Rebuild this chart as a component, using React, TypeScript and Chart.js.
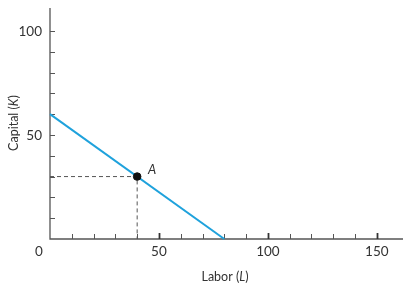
import React, { useEffect, useRef } from "react";
import { Chart, registerables } from "chart.js";

Chart.register(...registerables);

// ---- data ----
const budgetLine = [
  { x: 0, y: 60 },
  { x: 80, y: 0 },
];
const pointA = [{ x: 40, y: 30 }];
const pointLabel = "A";
const xTickValues = [10, 20, 30, 40, 50, 60, 70, 80, 90, 100, 110, 120, 130, 140, 150];
const yTickValues = [10, 20, 30, 40, 50, 60, 70, 80, 90, 100];
const xLabelValues = [0, 50, 100, 150];
const xLabelTexts = ["0", "50", "100", "150"];
const yLabelValues = [50, 100];
const yLabelTexts = ["50", "100"];
const xTitleParts = [
  { t: "Labor (", italic: false },
  { t: "L", italic: true },
  { t: ")", italic: false },
];
const yTitleParts = [
  { t: "Capital (", italic: false },
  { t: "K", italic: true },
  { t: ")", italic: false },
];

const FONT = "Lato, 'Open Sans', sans-serif";
const TEXT = "#333";
const AXIS = "#555";

function drawParts(ctx: CanvasRenderingContext2D, parts: { t: string; italic: boolean }[], size: number) {
  let total = 0;
  const widths = parts.map((p) => {
    ctx.font = `${p.italic ? "italic " : ""}${size}px ${FONT}`;
    const w = ctx.measureText(p.t).width;
    total += w;
    return w;
  });
  let x = -total / 2;
  parts.forEach((p, i) => {
    ctx.font = `${p.italic ? "italic " : ""}${size}px ${FONT}`;
    ctx.fillText(p.t, x, 0);
    x += widths[i];
  });
}

const axesPlugin = {
  id: "customAxes",
  beforeDatasetsDraw(chart: any) {
    const { ctx, chartArea, scales } = chart;
    const xs = scales.x;
    const ys = scales.y;
    const x0 = xs.getPixelForValue(0);
    const y0 = ys.getPixelForValue(0);
    ctx.save();
    ctx.strokeStyle = AXIS;
    ctx.lineWidth = 1.3;
    ctx.beginPath();
    ctx.moveTo(x0, chartArea.top);
    ctx.lineTo(x0, y0);
    ctx.lineTo(chartArea.right, y0);
    ctx.stroke();
    // y ticks (inside, to the right)
    yTickValues.forEach((v) => {
      const py = Math.round(ys.getPixelForValue(v)) + 0.5;
      ctx.lineWidth = 1;
      ctx.beginPath();
      ctx.moveTo(x0, py);
      ctx.lineTo(x0 + 5, py);
      ctx.stroke();
    });
    // x ticks (inside, upwards)
    xTickValues.forEach((v) => {
      const px = Math.round(xs.getPixelForValue(v)) + 0.5;
      const major = v % 50 === 0;
      ctx.lineWidth = major ? 1.8 : 1;
      ctx.strokeStyle = major ? "#333" : AXIS;
      ctx.beginPath();
      ctx.moveTo(px, y0);
      ctx.lineTo(px, y0 - (major ? 6 : 5));
      ctx.stroke();
    });
    ctx.restore();
  },
  afterDraw(chart: any) {
    const { ctx, scales } = chart;
    const xs = scales.x;
    const ys = scales.y;
    const x0 = xs.getPixelForValue(0);
    const y0 = ys.getPixelForValue(0);
    ctx.save();
    ctx.fillStyle = TEXT;
    ctx.font = `13.5px ${FONT}`;
    ctx.textBaseline = "middle";
    ctx.textAlign = "center";
    xLabelValues.forEach((v, i) => {
      const px = v === 0 ? x0 - 11 : xs.getPixelForValue(v);
      ctx.fillText(xLabelTexts[i], px, y0 + 13);
    });
    ctx.textAlign = "right";
    yLabelValues.forEach((v, i) => {
      ctx.fillText(yLabelTexts[i], x0 - 8, ys.getPixelForValue(v) + 1);
    });
    // titles
    ctx.textAlign = "left";
    ctx.save();
    ctx.translate(225, y0 + 38);
    drawParts(ctx, xTitleParts, 12.5);
    ctx.restore();
    ctx.save();
    ctx.translate(14, 123);
    ctx.rotate(-Math.PI / 2);
    drawParts(ctx, yTitleParts, 12.5);
    ctx.restore();
    // point label
    const pa = pointA[0];
    ctx.font = `italic 13px ${FONT}`;
    ctx.textAlign = "center";
    ctx.fillText(pointLabel, xs.getPixelForValue(pa.x) + 15, ys.getPixelForValue(pa.y) - 7);
    ctx.restore();
  },
};

export default function App() {
  const ref = useRef<HTMLCanvasElement | null>(null);
  useEffect(() => {
    document.body.style.margin = "0";
    const canvas = ref.current!;
    const pa = pointA[0];
    const chart = new Chart(canvas, {
      type: "scatter",
      data: {
        datasets: [
          {
            data: pointA,
            backgroundColor: "#111",
            borderColor: "#111",
            pointRadius: 3.8,
            pointHoverRadius: 3.8,
            order: 0,
            clip: false,
          },
          {
            data: budgetLine,
            showLine: true,
            borderColor: "#1fa2dc",
            borderWidth: 2,
            pointRadius: 0,
            order: 1,
            clip: false,
          },
          {
            data: [
              { x: 0, y: pa.y },
              { x: pa.x, y: pa.y },
              { x: pa.x, y: 0 },
            ],
            showLine: true,
            borderColor: "#555",
            borderWidth: 1,
            borderDash: [4, 3],
            pointRadius: 0,
            order: 2,
            clip: false,
          },
        ],
      },
      options: {
        responsive: false,
        animation: false,
        devicePixelRatio: 1,
        layout: { padding: { left: 50, top: 8, right: 7, bottom: 50 } },
        plugins: { legend: { display: false }, tooltip: { enabled: false } },
        events: [],
        scales: {
          x: { type: "linear", display: false, min: 0, max: 162 },
          y: { type: "linear", display: false, min: 0, max: 111 },
        },
      },
      plugins: [axesPlugin],
    });
    return () => chart.destroy();
  }, []);
  return (
    <div style={{ width: 410, height: 289, background: "#fff" }}>
      <canvas ref={ref} width={410} height={289} />
    </div>
  );
}
